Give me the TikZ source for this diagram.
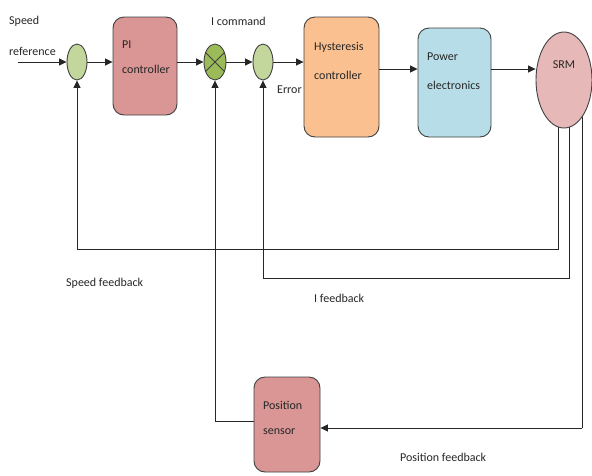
\documentclass[tikz,border=0pt]{standalone}
\usepackage{fontspec}
\setmainfont{Carlito}
\usetikzlibrary{arrows.meta,shapes.geometric,backgrounds}
\definecolor{sumgreen}{HTML}{C3D69B}
\definecolor{mulgreen}{HTML}{9BBB59}
\definecolor{pibox}{HTML}{D99694}
\definecolor{hystbox}{HTML}{FAC090}
\definecolor{powbox}{HTML}{B7DEE8}
\definecolor{srmfill}{HTML}{E6B9B8}
\definecolor{edge}{HTML}{404040}
\definecolor{txt}{HTML}{262626}
\tikzset{
  blk/.style={draw=edge, line width=0.9pt, rounded corners=11pt, inner sep=0pt},
  sumnode/.style={ellipse, draw=edge, line width=0.9pt, fill=sumgreen, minimum width=20pt, minimum height=36pt, inner sep=0pt},
  lbl/.style={anchor=base west, inner sep=0pt, text=txt, font=\fontsize{12}{14}\selectfont},
  conn/.style={draw=black!85, line width=0.8pt},
  arr/.style={conn, -{Triangle[length=7.5pt,width=7pt]}},
}
\begin{document}
\begin{tikzpicture}[x=1pt,y=-1pt]
\useasboundingbox (0,0) rectangle (592,475);
% blocks
\node[sumnode] (sum1) at (77,62) {};
\node[sumnode, fill=mulgreen, minimum width=22pt] (mult) at (215,62) {};
\draw[edge, line width=0.8pt] (mult.45) -- (mult.225) (mult.135) -- (mult.315);
\node[sumnode] (sum2) at (263,62) {};
\node[blk, fill=pibox, minimum width=64pt, minimum height=98pt] (pi) at (145,66) {};
\node[blk, fill=hystbox, minimum width=75pt, minimum height=120pt] (hyst) at (341.5,77) {};
\node[blk, fill=powbox, minimum width=73pt, minimum height=109pt] (pow) at (454.5,82.5) {};
\node[ellipse, draw=edge, line width=0.9pt, fill=srmfill, minimum width=56pt, minimum height=96pt, inner sep=0pt] (srm) at (564,80) {};
\node[blk, fill=pibox, minimum width=66pt, minimum height=95pt] (pos) at (287,424.5) {};
% labels
\node[lbl] (t1) at (9,24) {Speed};
\node[lbl] (t2) at (9,55) {reference};
\node[lbl] (t3) at (122,48) {PI};
\node[lbl] (t4) at (122,73) {controller};
\node[lbl] (t5) at (211,25) {I command};
\node[lbl] (t6) at (277,93) {Error};
\node[lbl] (t7) at (314,50) {Hysteresis};
\node[lbl] (t8) at (314,79) {controller};
\node[lbl] (t9) at (427,60) {Power};
\node[lbl] (t10) at (427,89) {electronics};
\node[lbl, anchor=base] (t11) at (564,68) {SRM};
\node[lbl] (t12) at (66,286) {Speed feedback};
\node[lbl] (t13) at (314,302) {I feedback};
\node[lbl] (t14) at (263,409) {Position};
\node[lbl] (t15) at (263,434) {sensor};
\node[lbl] (t16) at (400,461) {Position feedback};
% coordinates
\coordinate (in) at (18,62);
\coordinate (srmA) at (558,80);
\coordinate (srmB) at (569,80);
\coordinate (srmC) at (582,80);
\coordinate (sfb) at (77,249);
\coordinate (ifb) at (263,278);
\coordinate (pfb) at (582,428);
\coordinate (psl) at (215,421);
\coordinate (hy) at (0,69);
% forward path
\draw[arr] (in) -- (sum1.west);
\draw[arr] (sum1.east) -- (sum1.east -| pi.west);
\draw[arr] (sum1.east -| pi.east) -- (mult.west);
\draw[arr] (mult.east) -- (sum2.west);
\draw[arr] (sum2.east) -- (sum2.east -| hyst.west);
\draw[arr] (hyst.east |- hy) -- (pow.west |- hy);
\draw[arr] (pow.east |- hy) -- (srm.west |- hy);
% feedback paths
\begin{scope}[on background layer]
\draw[conn] (srmA) |- (sfb);
\draw[conn] (srmB) |- (ifb);
\draw[conn] (srmC) -- (pfb);
\end{scope}
\draw[arr] (sfb) -- (sum1.south);
\draw[arr] (ifb) -- (sum2.south);
\draw[arr] (pfb) -- (pfb -| pos.east);
\draw[conn] (pos.west |- psl) -- (psl);
\draw[arr] (psl) -- (mult.south);
\end{tikzpicture}
\end{document}
